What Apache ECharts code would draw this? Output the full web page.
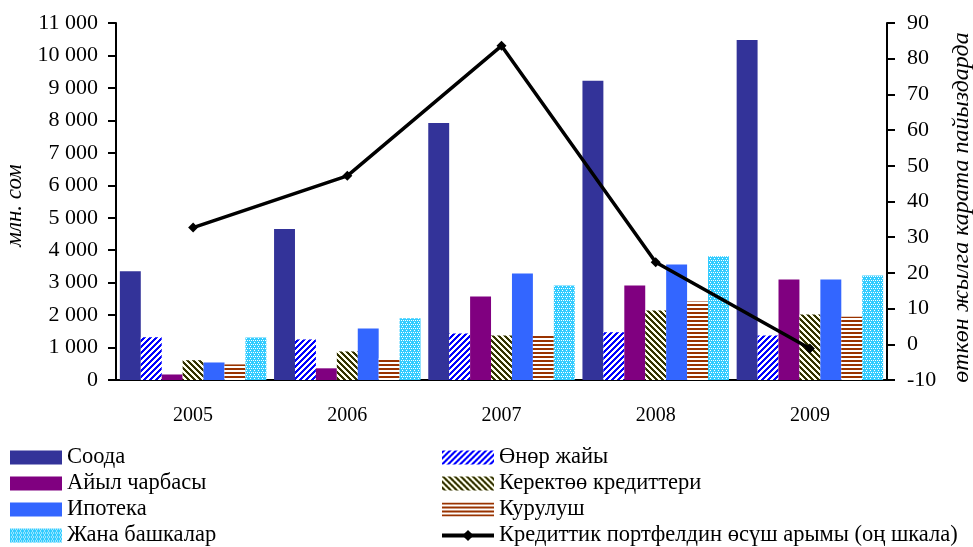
<!DOCTYPE html>
<html>
<head>
<meta charset="utf-8">
<script src="https://cdn.jsdelivr.net/npm/echarts@6/dist/echarts.min.js"></script>
<style>
  html, body { margin: 0; padding: 0; background: #fff; }
  #chart { width: 973px; height: 547px; }
</style>
</head>
<body>
<div id="chart"></div>
<script>
const years = ['2005', '2006', '2007', '2008', '2009'];

const trade = [3350, 4650, 7920, 9220, 10480];
const industry = [1320, 1250, 1430, 1470, 1370];
const agriculture = [170, 360, 2570, 2910, 3100];
const consumer = [610, 880, 1370, 2140, 2020];
const mortgage = [540, 1590, 3280, 3560, 3100];
const construction = [480, 670, 1410, 2420, 1950];
const other = [1310, 1900, 2910, 3810, 3220];

const growth = [32.7, 47.2, 83.6, 23, -1.2];

// small tiles for the hatched bars
function tile(w, h, paint) {
  const c = document.createElement('canvas');
  c.width = w;
  c.height = h;
  const ctx = c.getContext('2d');
  ctx.fillStyle = '#fff';
  ctx.fillRect(0, 0, w, h);
  for (let y = 0; y < h; y++) {
    for (let x = 0; x < w; x++) {
      const col = paint(x, y);
      if (col) {
        ctx.fillStyle = col;
        ctx.fillRect(x, y, 1, 1);
      }
    }
  }
  return { image: c, repeat: 'repeat' };
}

const industryFill = tile(6, 6, (x, y) => ((x + y) % 6 < 3 ? '#0000ff' : null));
const consumerFill = tile(6, 6, (x, y) => ((x - y + 12) % 6 < 3 ? '#333300' : '#ffffee'));
const constructionFill = tile(4, 4, (x, y) => (y % 4 < 2 ? '#993300' : null));
const otherFill = tile(4, 4, (x, y) => ((x % 2 === 1 && y % 4 === 0) || (x % 4 === 2 && y % 4 === 2) ? null : '#33ccff'));

const font = 'Liberation Serif';

function thousands(v) {
  return String(v).replace(/\B(?=(\d{3})+(?!\d))/g, ' ');
}

function bar(name, data, color) {
  return {
    name,
    type: 'bar',
    data,
    barGap: '0%',
    barCategoryGap: '5%',
    itemStyle: { color },
    emphasis: { disabled: true }
  };
}

const legendBase = {
  orient: 'vertical',
  top: 446,
  padding: 0,
  itemWidth: 52,
  itemHeight: 14,
  itemGap: 3,
  textStyle: { fontFamily: font, fontSize: 22.5, color: '#000' }
};

const chart = echarts.init(document.getElementById('chart'));
chart.setOption({
  animation: false,
  textStyle: { fontFamily: font, color: '#000' },
  grid: { left: 116, right: 86, top: 23, bottom: 167, outerBoundsMode: 'none' },
  legend: [
    Object.assign({}, legendBase, {
      left: 10,
      data: ['Соода', 'Айыл чарбасы', 'Ипотека', 'Жана башкалар'].map(name => ({ name, icon: 'rect' }))
    }),
    Object.assign({}, legendBase, {
      left: 440,
      data: [
        { name: 'Өнөр жайы', icon: 'rect' },
        { name: 'Керектөө кредиттери', icon: 'rect' },
        { name: 'Курулуш', icon: 'rect' },
        { name: 'Кредиттик портфелдин өсүш арымы (оң шкала)', lineStyle: { width: 4 } }
      ]
    })
  ],
  xAxis: {
    type: 'category',
    data: years,
    axisLine: { lineStyle: { color: '#000', width: 2 } },
    axisTick: { length: 6, lineStyle: { color: '#000', width: 2 } },
    axisLabel: { fontFamily: font, fontSize: 20, color: '#000', margin: 26 }
  },
  yAxis: [
    {
      type: 'value',
      min: 0,
      max: 11000,
      interval: 1000,
      name: 'млн. сом',
      nameLocation: 'middle',
      nameRotate: 90,
      nameGap: 79,
      nameTextStyle: { fontFamily: font, fontSize: 23, fontStyle: 'italic', color: '#000', padding: [0, 8, 0, 0] },
      axisLine: { show: true, lineStyle: { color: '#000', width: 2 } },
      axisTick: { show: true, length: 8, lineStyle: { color: '#000', width: 2 } },
      axisLabel: { fontFamily: font, fontSize: 22, color: '#000', margin: 18, formatter: thousands },
      splitLine: { show: false }
    },
    {
      type: 'value',
      min: -10,
      max: 90,
      interval: 10,
      name: 'өткөн жылга карата пайыздарда',
      nameLocation: 'middle',
      nameRotate: 90,
      nameGap: 63,
      nameTextStyle: { fontFamily: font, fontSize: 24, fontStyle: 'italic', color: '#000', padding: [0, 12, 0, 0] },
      axisLine: { show: true, lineStyle: { color: '#000', width: 2 } },
      axisTick: { show: true, length: 8, lineStyle: { color: '#000', width: 2 } },
      axisLabel: { fontFamily: font, fontSize: 22, color: '#000', margin: 20 },
      splitLine: { show: false }
    }
  ],
  series: [
    bar('Соода', trade, '#333399'),
    bar('Өнөр жайы', industry, industryFill),
    bar('Айыл чарбасы', agriculture, '#800080'),
    bar('Керектөө кредиттери', consumer, consumerFill),
    bar('Ипотека', mortgage, '#3366ff'),
    bar('Курулуш', construction, constructionFill),
    bar('Жана башкалар', other, otherFill),
    {
      name: 'Кредиттик портфелдин өсүш арымы (оң шкала)',
      type: 'line',
      yAxisIndex: 1,
      data: growth,
      symbol: 'diamond',
      symbolSize: 10,
      z: 5,
      lineStyle: { color: '#000', width: 3.5 },
      itemStyle: { color: '#000' },
      emphasis: { disabled: true }
    }
  ]
});
</script>
</body>
</html>
